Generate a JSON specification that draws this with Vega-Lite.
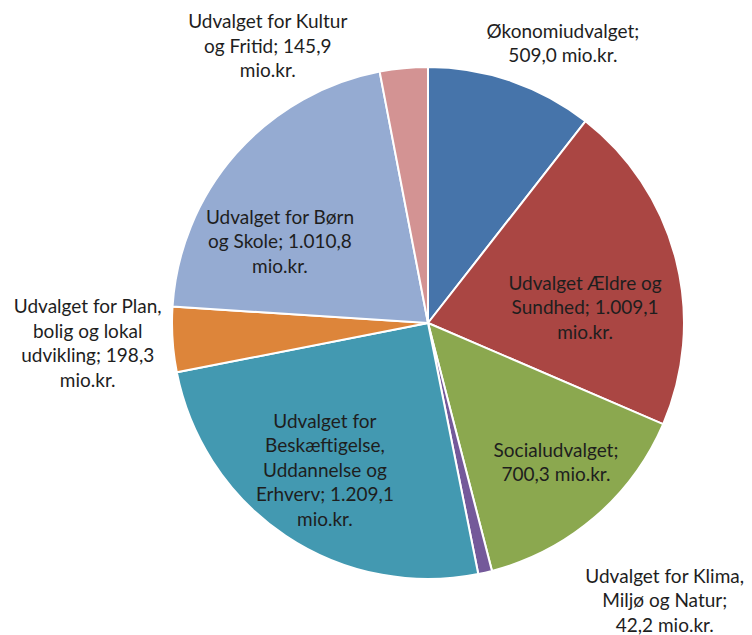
{
  "$schema": "https://vega.github.io/schema/vega-lite/v6.json",
  "width": 512,
  "height": 512,
  "autosize": "none",
  "padding": {"left": 172, "top": 67, "right": 68, "bottom": 56},
  "background": "white",
  "config": {"view": {"stroke": null}},
  "data": {
    "values": [
      {"order": 1, "name": "Økonomiudvalget", "value": 509.0, "label": "Økonomiudvalget;\n509,0 mio.kr."},
      {"order": 2, "name": "Udvalget Ældre og Sundhed", "value": 1009.1, "label": "Udvalget Ældre og\nSundhed; 1.009,1\nmio.kr."},
      {"order": 3, "name": "Socialudvalget", "value": 700.3, "label": "Socialudvalget;\n700,3 mio.kr."},
      {"order": 4, "name": "Udvalget for Klima, Miljø og Natur", "value": 42.2, "label": "Udvalget for Klima,\nMiljø og Natur;\n42,2 mio.kr."},
      {"order": 5, "name": "Udvalget for Beskæftigelse, Uddannelse og Erhverv", "value": 1209.1, "label": "Udvalget for\nBeskæftigelse,\nUddannelse og\nErhverv; 1.209,1\nmio.kr."},
      {"order": 6, "name": "Udvalget for Plan, bolig og lokal udvikling", "value": 198.3, "label": "Udvalget for Plan,\nbolig og lokal\nudvikling; 198,3\nmio.kr."},
      {"order": 7, "name": "Udvalget for Børn og Skole", "value": 1010.8, "label": "Udvalget for Børn\nog Skole; 1.010,8\nmio.kr."},
      {"order": 8, "name": "Udvalget for Kultur og Fritid", "value": 145.9, "label": "Udvalget for Kultur\nog Fritid; 145,9\nmio.kr."}
    ]
  },
  "encoding": {
    "theta": {"field": "value", "type": "quantitative", "stack": true},
    "order": {"field": "order", "type": "quantitative"}
  },
  "layer": [
    {
      "mark": {"type": "arc", "stroke": "white", "strokeWidth": 2},
      "encoding": {
        "color": {
          "field": "name",
          "type": "nominal",
          "sort": null,
          "legend": null,
          "scale": {
            "domain": ["Økonomiudvalget", "Udvalget Ældre og Sundhed", "Socialudvalget", "Udvalget for Klima, Miljø og Natur", "Udvalget for Beskæftigelse, Uddannelse og Erhverv", "Udvalget for Plan, bolig og lokal udvikling", "Udvalget for Børn og Skole", "Udvalget for Kultur og Fritid"],
            "range": ["#4674AA", "#AA4643", "#8BA84F", "#74599A", "#4399B1", "#DD853A", "#95ABD2", "#D39393"]
          }
        }
      }
    },
    {
      "mark": {"type": "text", "radius": 310, "dx": 34, "dy": 2, "font": "Lato", "fontSize": 19, "lineBreak": "\n", "lineHeight": 24.5, "align": "center", "baseline": "middle", "color": "#1e1e1e"},
      "encoding": {"text": {"condition": {"test": "datum.order === 1", "field": "label"}, "value": ""}}
    },
    {
      "mark": {"type": "text", "radius": 158, "dx": 4, "dy": 0, "font": "Lato", "fontSize": 19, "lineBreak": "\n", "lineHeight": 24.5, "align": "center", "baseline": "middle", "color": "#1e1e1e"},
      "encoding": {"text": {"condition": {"test": "datum.order === 2", "field": "label"}, "value": ""}}
    },
    {
      "mark": {"type": "text", "radius": 189, "dx": 5, "dy": -16, "font": "Lato", "fontSize": 19, "lineBreak": "\n", "lineHeight": 24.5, "align": "center", "baseline": "middle", "color": "#1e1e1e"},
      "encoding": {"text": {"condition": {"test": "datum.order === 3", "field": "label"}, "value": ""}}
    },
    {
      "mark": {"type": "text", "radius": 366, "dx": 155, "dy": -103, "font": "Lato", "fontSize": 19, "lineBreak": "\n", "lineHeight": 24.5, "align": "center", "baseline": "middle", "color": "#1e1e1e"},
      "encoding": {"text": {"condition": {"test": "datum.order === 4", "field": "label"}, "value": ""}}
    },
    {
      "mark": {"type": "text", "radius": 180, "dx": -3, "dy": -51, "font": "Lato", "fontSize": 19, "lineBreak": "\n", "lineHeight": 24.5, "align": "center", "baseline": "middle", "color": "#1e1e1e"},
      "encoding": {"text": {"condition": {"test": "datum.order === 5", "field": "label"}, "value": ""}}
    },
    {
      "mark": {"type": "text", "radius": 341, "dx": 0, "dy": -38, "font": "Lato", "fontSize": 19, "lineBreak": "\n", "lineHeight": 24.5, "align": "center", "baseline": "middle", "color": "#1e1e1e"},
      "encoding": {"text": {"condition": {"test": "datum.order === 6", "field": "label"}, "value": ""}}
    },
    {
      "mark": {"type": "text", "radius": 168, "dx": -22, "dy": 6, "font": "Lato", "fontSize": 19, "lineBreak": "\n", "lineHeight": 24.5, "align": "center", "baseline": "middle", "color": "#1e1e1e"},
      "encoding": {"text": {"condition": {"test": "datum.order === 7", "field": "label"}, "value": ""}}
    },
    {
      "mark": {"type": "text", "radius": 319, "dx": -130, "dy": 17, "font": "Lato", "fontSize": 19, "lineBreak": "\n", "lineHeight": 24.5, "align": "center", "baseline": "middle", "color": "#1e1e1e"},
      "encoding": {"text": {"condition": {"test": "datum.order === 8", "field": "label"}, "value": ""}}
    }
  ]
}
